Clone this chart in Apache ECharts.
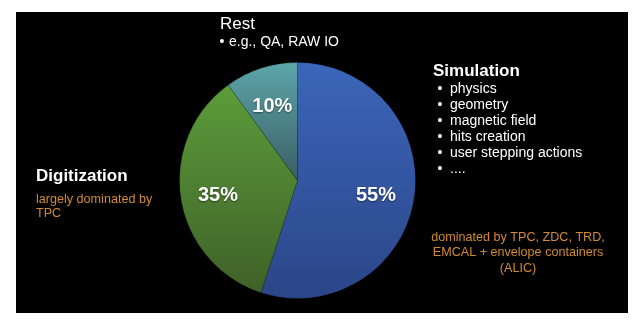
<!DOCTYPE html>
<html>
<head>
<meta charset="utf-8">
<script src="https://cdn.jsdelivr.net/npm/echarts@6/dist/echarts.min.js"></script>
<style>
  html, body { margin: 0; padding: 0; background: #fff; }
  #chart { width: 639px; height: 329px; }
</style>
</head>
<body>
<div id="chart"></div>
<script>
// slices, clockwise from 12 o'clock
const categories = ["Simulation", "Digitization", "Rest"];
const shares = [55, 35, 10];
const topColors = ["#3b66ba", "#5c9c3a", "#5ca6aa"];
const bottomColors = ["#2b4688", "#3f6128", "#3a5e63"];

// annotation texts
const simBullets = ["physics", "geometry", "magnetic field", "hits creation", "user stepping actions", "...."];
const restBullets = ["e.g., QA, RAW IO"];
const digiNote = ["largely dominated by", "TPC"];
const simNote = ["dominated by TPC, ZDC, TRD,", "EMCAL + envelope containers", "(ALIC)"];

const FONT = "'Liberation Sans', Arial, Helvetica, sans-serif";
const WHITE = "#ffffff";
const ORANGE = "#d28a30";

const chart = echarts.init(document.getElementById("chart"));

const sliceData = categories.map((name, i) => ({
  name: name,
  value: shares[i],
  itemStyle: {
    color: new echarts.graphic.LinearGradient(0, 0, 0, 1, [
      { offset: 0, color: topColors[i] },
      { offset: 1, color: bottomColors[i] },
    ]),
  },
}));

function txt(x, y, text, font, fill, align) {
  return {
    type: "text",
    x: x,
    y: y,
    z: 10,
    style: {
      text: text,
      font: font,
      fill: fill,
      align: align || "left",
      verticalAlign: "middle",
    },
  };
}

const graphics = [
  {
    type: "rect",
    z: -10,
    shape: { x: 16, y: 12, width: 612, height: 301 },
    style: { fill: "#000" },
  },
  txt(220, 24, categories[2], "17px " + FONT, WHITE),
  txt(433, 71.5, categories[0], "bold 17px " + FONT, WHITE),
  txt(36, 176.5, categories[1], "bold 17px " + FONT, WHITE),
];

restBullets.forEach((t, i) => {
  graphics.push(txt(222, 42 + i * 16, "•", "14px " + FONT, WHITE, "center"));
  graphics.push(txt(229, 42 + i * 16, t, "14px " + FONT, WHITE));
});
simBullets.forEach((t, i) => {
  graphics.push(txt(440, 89 + i * 16.1, "•", "14px " + FONT, WHITE, "center"));
  graphics.push(txt(450, 89 + i * 16.1, t, "14px " + FONT, WHITE));
});
digiNote.forEach((t, i) => {
  graphics.push(txt(36, 199.6 + i * 14.3, t, "12.6px " + FONT, ORANGE));
});
simNote.forEach((t, i) => {
  graphics.push(txt(518, 237.3 + i * 15.5, t, "12.6px " + FONT, ORANGE, "center"));
});

const option = {
  backgroundColor: "#ffffff",
  animation: false,
  graphic: graphics,
  series: [
    {
      type: "pie",
      center: [297.5, 180.5],
      radius: [0, 118],
      startAngle: 90,
      clockwise: true,
      silent: true,
      label: { show: false },
      labelLine: { show: false },
      itemStyle: { borderColor: "rgba(0,0,0,0.25)", borderWidth: 0.6 },
      data: sliceData,
    },
    {
      // transparent ring only to place the percentage labels
      type: "pie",
      center: [297, 183],
      radius: [36, 118],
      startAngle: 90,
      clockwise: true,
      silent: true,
      itemStyle: { color: "rgba(0,0,0,0)" },
      label: {
        show: true,
        position: "inside",
        formatter: "{c}%",
        color: WHITE,
        fontFamily: FONT,
        fontWeight: "bold",
        fontSize: 20,
        textShadowColor: "rgba(0,0,0,0.5)",
        textShadowBlur: 2,
        textShadowOffsetY: 1,
      },
      labelLine: { show: false },
      data: categories.map((name, i) => ({ name: name, value: shares[i] })),
    },
  ],
};

chart.setOption(option);
</script>
</body>
</html>
